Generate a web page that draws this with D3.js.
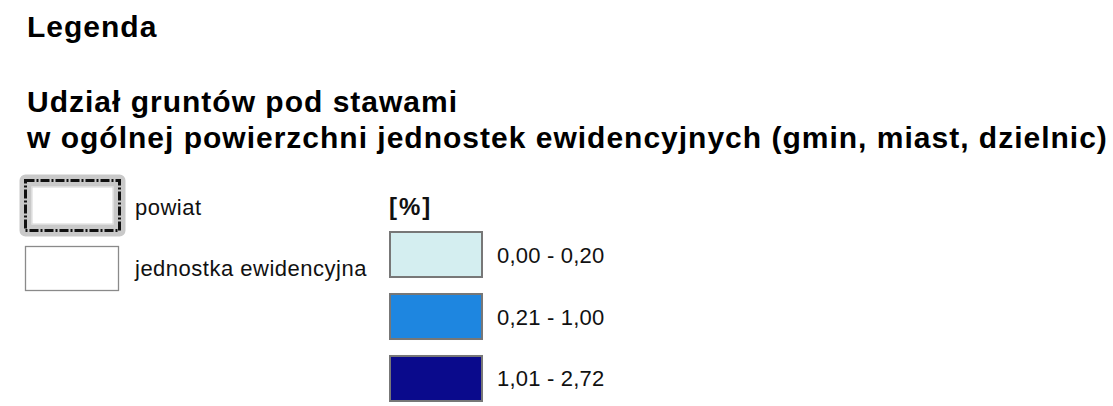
<!DOCTYPE html>
<html><head><meta charset="utf-8">
<script src="https://cdn.jsdelivr.net/npm/d3@7"></script>
<style>html,body{margin:0;padding:0;background:#fff;}svg{display:block;}</style>
</head><body>
<script>
const titleLines = ["Udział gruntów pod stawami", "w ogólnej powierzchni jednostek ewidencyjnych (gmin, miast, dzielnic)"];
const heading = "Legenda";
const unitLabel = "[%]";
const boundaryLabels = ["powiat", "jednostka ewidencyjna"];
const classLabels = ["0,00 - 0,20", "0,21 - 1,00", "1,01 - 2,72"];
const classColors = ["#d4eef0", "#1e86e0", "#0a0a8c"];

const W = 1113, H = 406;
const svg = d3.select("body").append("svg").attr("width", W).attr("height", H);
const font = "'Liberation Sans', Arial, sans-serif";

svg.append("text").attr("x", 27).attr("y", 37).text(heading)
  .attr("font-family", font).attr("font-weight", "bold").attr("font-size", 30)
  .attr("letter-spacing", 1).attr("fill", "#000");

svg.selectAll("text.title").data(titleLines).join("text").attr("class", "title")
  .attr("x", 27).attr("y", (d, i) => 112 + i * 36).text(d => d)
  .attr("font-family", font).attr("font-weight", "bold").attr("font-size", 30)
  .attr("letter-spacing", 1).attr("fill", "#000");

// powiat symbol
const pw = svg.append("g");
pw.append("rect").attr("x", 25.5).attr("y", 180.5).attr("width", 94).attr("height", 50)
  .attr("fill", "#fff").attr("stroke", "#c9c9c9").attr("stroke-width", 12).attr("stroke-linejoin", "round");
pw.append("rect").attr("x", 25.5).attr("y", 180.5).attr("width", 94).attr("height", 50)
  .attr("fill", "none").attr("stroke", "#111").attr("stroke-width", 3).attr("stroke-dasharray", "9,2,2,2");
pw.append("rect").attr("x", 32).attr("y", 187).attr("width", 81).attr("height", 37)
  .attr("fill", "#fff").attr("stroke", "#d6d6d6").attr("stroke-width", 1);

// jednostka symbol
svg.append("rect").attr("x", 25.5).attr("y", 246.5).attr("width", 93).attr("height", 44)
  .attr("fill", "#fff").attr("stroke", "#8a8a8a").attr("stroke-width", 1.3);

const yB = d3.scalePoint().domain(boundaryLabels).range([215, 276]);
svg.selectAll("text.bl").data(boundaryLabels).join("text").attr("class", "bl")
  .attr("x", 135).attr("y", d => yB(d)).text(d => d)
  .attr("font-family", font).attr("font-size", 22).attr("letter-spacing", 0.5).attr("fill", "#111");

svg.append("text").attr("x", 389).attr("y", 215).text(unitLabel)
  .attr("font-family", font).attr("font-weight", "bold").attr("font-size", 24)
  .attr("letter-spacing", 2).attr("fill", "#111");

const yC = d3.scaleBand().domain(classLabels).range([232, 401]).paddingInner(0.274).paddingOuter(0);
svg.selectAll("rect.cls").data(classLabels).join("rect").attr("class", "cls")
  .attr("x", 390).attr("y", d => yC(d)).attr("width", 92).attr("height", yC.bandwidth())
  .attr("fill", (d, i) => classColors[i]).attr("stroke", "#777").attr("stroke-width", 2);
svg.selectAll("text.cl").data(classLabels).join("text").attr("class", "cl")
  .attr("x", 497).attr("y", d => yC(d) + yC.bandwidth() / 2 + 8).text(d => d)
  .attr("font-family", font).attr("font-size", 22).attr("letter-spacing", 0.2).attr("fill", "#111");
</script>
</body></html>
